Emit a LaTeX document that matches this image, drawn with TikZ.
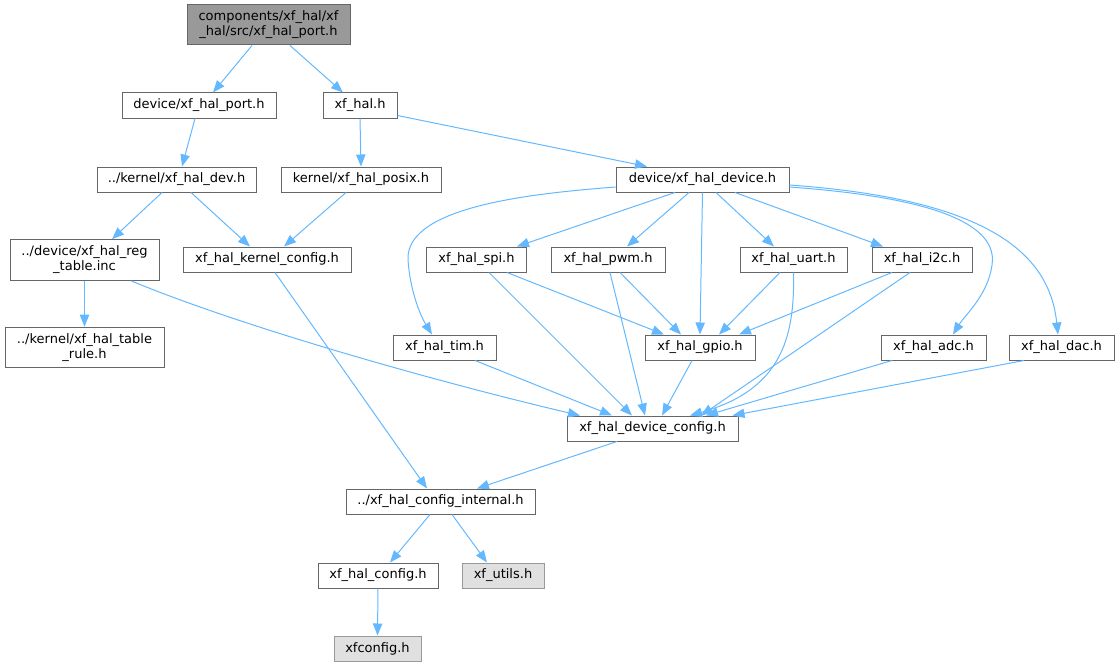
\documentclass[tikz,border=0pt]{standalone}
\usepackage{fontspec}
\setmainfont{DejaVu Sans}
\usetikzlibrary{arrows.meta}

\definecolor{edgeblue}{HTML}{63B8FF}
\definecolor{boxgray}{HTML}{666666}
\definecolor{rootfill}{HTML}{999999}
\definecolor{extfill}{HTML}{E0E0E0}
\definecolor{extdraw}{HTML}{999999}

\begin{document}
\begin{tikzpicture}[x=0.75pt,y=-0.75pt,
		hdr/.style={draw=boxgray,fill=white,line width=0.75pt,inner sep=0pt,minimum height=18.75pt,minimum width=#1*0.75pt,align=center,font=\fontsize{9.75pt}{11.25pt}\selectfont},
		roothdr/.style={hdr=#1,fill=rootfill,minimum height=30pt},
		exthdr/.style={hdr=#1,draw=extdraw,fill=extfill},
		twoline/.style={minimum height=30.5pt},
		dep/.style={color=edgeblue,line width=0.75pt,-{Triangle[length=9pt,width=7pt]}}]
	\useasboundingbox (0,0) rectangle (1117,667);
	% header files
	\node[roothdr=163] (root) at (268.5,25) {components/xf\_hal/xf\\\_hal/src/xf\_hal\_port.h};
	\node[hdr=154] (port) at (199,105.5) {device/xf\_hal\_port.h};
	\node[hdr=74] (xfhal) at (360,105.5) {xf\_hal.h};
	\node[hdr=159] (dev) at (176.5,179.5) {../kernel/xf\_hal\_dev.h};
	\node[hdr=160] (posix) at (361,179.5) {kernel/xf\_hal\_posix.h};
	\node[hdr=173] (device) at (702.5,179.5) {device/xf\_hal\_device.h};
	\node[hdr=149,twoline] (regtable) at (84.5,260) {../device/xf\_hal\_reg\\\_table.inc};
	\node[hdr=168] (kconfig) at (267,259.5) {xf\_hal\_kernel\_config.h};
	\node[hdr=100] (spi) at (476.5,259.5) {xf\_hal\_spi.h};
	\node[hdr=114] (pwm) at (608,259.5) {xf\_hal\_pwm.h};
	\node[hdr=107] (uart) at (793.5,259.5) {xf\_hal\_uart.h};
	\node[hdr=100] (i2c) at (922,259.5) {xf\_hal\_i2c.h};
	\node[hdr=159,twoline] (tablerule) at (84.5,347.5) {../kernel/xf\_hal\_table\\\_rule.h};
	\node[hdr=103] (tim) at (444.5,347.5) {xf\_hal\_tim.h};
	\node[hdr=110] (gpio) at (700,347.5) {xf\_hal\_gpio.h};
	\node[hdr=105] (adc) at (933.5,347.5) {xf\_hal\_adc.h};
	\node[hdr=105] (dac) at (1061.5,347.5) {xf\_hal\_dac.h};
	\node[hdr=171] (devconfig) at (652.5,428.5) {xf\_hal\_device\_config.h};
	\node[hdr=189] (cfginternal) at (440.5,501.5) {../xf\_hal\_config\_internal.h};
	\node[hdr=120] (halconfig) at (378,575.5) {xf\_hal\_config.h};
	\node[exthdr=82] (utils) at (503,575.5) {xf\_utils.h};
	\node[exthdr=87] (xfconfig) at (377.5,648.5) {xfconfig.h};
	% includes
	\path[dep]
		([shift={(-16.5,0)}]root.south) edge ([shift={(14,0)}]port.north)
		([shift={(21.5,0)}]root.south) edge ([shift={(-17,0)}]xfhal.north)
		([shift={(-4,0)}]port.south) edge ([shift={(5.5,0)}]dev.north)
		(xfhal.south) edge (posix.north)
		([shift={(0,-3)}]xfhal.south east) edge ([shift={(-55.5,0)}]device.north)
		([shift={(-14.5,0)}]dev.south) edge ([shift={(27.5,0)}]regtable.north)
		([shift={(14.5,0)}]dev.south) edge ([shift={(-17,0)}]kconfig.north)
		([shift={(-15,0)}]posix.south) edge ([shift={(17,0)}]kconfig.north)
		([shift={(-27.5,0)}]device.south) edge ([shift={(40.5,0)}]spi.north)
		([shift={(-13.5,0)}]device.south) edge ([shift={(19,0)}]pwm.north)
		(device.south) edge (gpio.north)
		([shift={(13.5,0)}]device.south) edge ([shift={(-19.5,0)}]uart.north)
		([shift={(32.5,0)}]device.south) edge ([shift={(-39,0)}]i2c.north)
		(regtable.south) edge (tablerule.north)
		([shift={(8,0)}]kconfig.south) edge ([shift={(-13.5,0)}]cfginternal.north)
		([shift={(30.5,0)}]spi.south) edge ([shift={(-36,0)}]gpio.north)
		([shift={(12.5,0)}]spi.south) edge ([shift={(-20.5,0)}]devconfig.north)
		([shift={(12,0)}]pwm.south) edge ([shift={(-19,0)}]gpio.north)
		([shift={(2,0)}]pwm.south) edge ([shift={(-7.5,0)}]devconfig.north)
		([shift={(-13.5,0)}]uart.south) edge ([shift={(19,0)}]gpio.north)
		([shift={(-30,0)}]i2c.south) edge ([shift={(39,0)}]gpio.north)
		([shift={(-12,0)}]i2c.south) edge ([shift={(48.5,0)}]devconfig.north)
		([shift={(30.5,0)}]tim.south) edge ([shift={(-40.5,0)}]devconfig.north)
		([shift={(-8,0)}]gpio.south) edge ([shift={(9.5,0)}]devconfig.north)
		([shift={(-41.5,0)}]adc.south) edge ([shift={(53.5,0)}]devconfig.north)
		([shift={(-37.5,0)}]dac.south) edge ([shift={(80,0)}]devconfig.north)
		([shift={(-35.5,0)}]devconfig.south) edge ([shift={(36.5,0)}]cfginternal.north)
		([shift={(-10.5,0)}]cfginternal.south) edge ([shift={(12,0)}]halconfig.north)
		([shift={(11.5,0)}]cfginternal.south) edge ([shift={(-16,0)}]utils.north)
		(halconfig.south) edge (xfconfig.north);
	% curved includes
	\draw[dep] ([shift={(0,7.5)}]device.west) .. controls (540,193) and (405,205) .. (408,260)
		.. controls (410,290) and (420,315) .. ([shift={(-12.5,0)}]tim.north);
	\draw[dep] ([shift={(0,7.5)}]device.east) .. controls (900,195) and (1000,215) .. (992,265)
		.. controls (988,295) and (965,315) .. ([shift={(19.5,0)}]adc.north);
	\draw[dep] ([shift={(0,5.5)}]device.east) .. controls (1000,200) and (1050,260) .. ([shift={(-3.5,0)}]dac.north);
	\draw[dep] (uart.south) .. controls (795,340) and (780,390) .. ([shift={(37.5,0)}]devconfig.north);
	\draw[dep] ([shift={(46.5,0)}]regtable.south) .. controls (250,330) and (450,385) .. ([shift={(-72.5,0)}]devconfig.north);
\end{tikzpicture}
\end{document}
